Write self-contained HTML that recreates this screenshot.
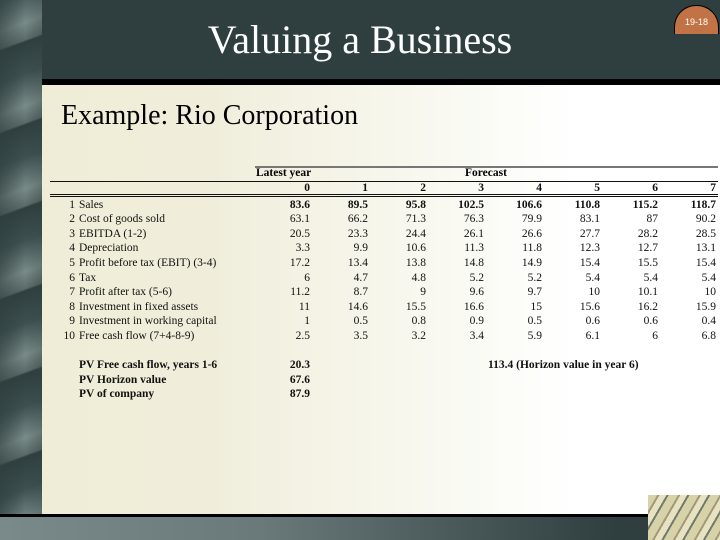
<!DOCTYPE html>
<html><head><meta charset="utf-8"><style>
body{margin:0;width:720px;height:540px;overflow:hidden;position:relative;font-family:"Liberation Serif",serif;background:linear-gradient(90deg,#efedd6 0%,#f0eedb 30%,#fafaf4 65%,#fff 80%);}
.abs{position:absolute}
#strip{left:0;top:0;width:42px;height:515px;background:repeating-linear-gradient(160deg,#3e5050 0px,#7a8c8a 30px,#5a6b6a 46px,#2f3f3f 48px,#3e5050 78px);}
#strip:after{content:"";position:absolute;inset:0;background:linear-gradient(90deg,rgba(47,63,63,.6),rgba(0,0,0,0) 60%,rgba(47,63,63,.3));}
#header{left:42px;top:0;width:678px;height:79px;background:#2f3f3f;}
#hline{left:42px;top:79px;width:678px;height:6px;background:#000;}
#title{left:0;width:720px;top:16px;text-align:center;color:#fff;font-size:40px;}
#badge{left:674px;top:5px;width:43px;height:28px;background:#c27346;border-radius:22px 22px 0 0;color:#fff;font:9px "Liberation Sans",sans-serif;text-align:center;line-height:32px;border:1px solid #000;border-bottom:none}
#sub{left:61px;top:100px;font-size:28px;color:#000}
#bline{left:0;top:514px;width:648px;height:3px;background:#000}
#bbar{left:0;top:517px;width:648px;height:23px;background:linear-gradient(90deg,#7a8a8a,#6a7a7a 40%,#2f3f3f 95%)}
#pic{left:648px;top:495px;width:72px;height:45px;background:repeating-linear-gradient(120deg,#d8d2a8 0 8px,#a09a7a 8px 10px,#e8e2c0 10px 16px,#707a70 16px 18px)}
table{position:absolute;left:50px;top:166px;border-collapse:collapse;font-size:11.5px;color:#111;table-layout:fixed;width:666px}
td{padding:0;height:14.6px;line-height:14.6px;text-align:right;width:58px;white-space:nowrap;overflow:visible}
td.n{width:25px}td.l{text-align:left;width:173px;padding-left:4px}
.b{font-weight:bold}
.hl{position:absolute;background:#111}
</style></head><body>
<div id="strip" class="abs"></div>
<div id="header" class="abs"></div>
<div id="hline" class="abs"></div>
<div id="title" class="abs">Valuing a Business</div>
<div id="badge" class="abs">19-18</div>
<div id="sub" class="abs">Example: Rio Corporation</div>
<div id="bline" class="abs"></div>
<div id="bbar" class="abs"></div>
<div id="pic" class="abs"></div>
<div class="hl" style="left:255px;top:166px;width:463px;height:2px;background:#777"></div>
<div class="hl" style="left:50px;top:181px;width:668px;height:1px"></div>
<div class="hl" style="left:50px;top:194px;width:668px;height:1px"></div>
<div class="hl" style="left:50px;top:196px;width:668px;height:1px"></div>
<div class="abs b" style="left:256px;top:167px;font-size:11.5px">Latest year</div>
<div class="abs b" style="left:465px;top:167px;font-size:11.5px">Forecast</div>
<table style="top:181px">
<colgroup><col style="width:25px"><col style="width:177px"><col style="width:58px"><col style="width:58px"><col style="width:58px"><col style="width:58px"><col style="width:58px"><col style="width:58px"><col style="width:58px"><col style="width:58px"></colgroup>
<tr class="b"><td class="n"></td><td class="l"></td><td>0</td><td>1</td><td>2</td><td>3</td><td>4</td><td>5</td><td>6</td><td>7</td></tr>
<tr style="height:2px"><td colspan="10" style="height:2px;line-height:2px"></td></tr>
<tr><td class="n">1</td><td class="l">Sales</td><td class="b">83.6</td><td class="b">89.5</td><td class="b">95.8</td><td class="b">102.5</td><td class="b">106.6</td><td class="b">110.8</td><td class="b">115.2</td><td class="b">118.7</td></tr>
<tr><td class="n">2</td><td class="l">Cost of goods sold</td><td>63.1</td><td>66.2</td><td>71.3</td><td>76.3</td><td>79.9</td><td>83.1</td><td>87</td><td>90.2</td></tr>
<tr><td class="n">3</td><td class="l">EBITDA (1-2)</td><td>20.5</td><td>23.3</td><td>24.4</td><td>26.1</td><td>26.6</td><td>27.7</td><td>28.2</td><td>28.5</td></tr>
<tr><td class="n">4</td><td class="l">Depreciation</td><td>3.3</td><td>9.9</td><td>10.6</td><td>11.3</td><td>11.8</td><td>12.3</td><td>12.7</td><td>13.1</td></tr>
<tr><td class="n">5</td><td class="l">Profit before tax (EBIT) (3-4)</td><td>17.2</td><td>13.4</td><td>13.8</td><td>14.8</td><td>14.9</td><td>15.4</td><td>15.5</td><td>15.4</td></tr>
<tr><td class="n">6</td><td class="l">Tax</td><td>6</td><td>4.7</td><td>4.8</td><td>5.2</td><td>5.2</td><td>5.4</td><td>5.4</td><td>5.4</td></tr>
<tr><td class="n">7</td><td class="l">Profit after tax (5-6)</td><td>11.2</td><td>8.7</td><td>9</td><td>9.6</td><td>9.7</td><td>10</td><td>10.1</td><td>10</td></tr>
<tr><td class="n">8</td><td class="l">Investment in fixed assets</td><td>11</td><td>14.6</td><td>15.5</td><td>16.6</td><td>15</td><td>15.6</td><td>16.2</td><td>15.9</td></tr>
<tr><td class="n">9</td><td class="l">Investment in working capital</td><td>1</td><td>0.5</td><td>0.8</td><td>0.9</td><td>0.5</td><td>0.6</td><td>0.6</td><td>0.4</td></tr>
<tr><td class="n">10</td><td class="l">Free cash flow (7+4-8-9)</td><td>2.5</td><td>3.5</td><td>3.2</td><td>3.4</td><td>5.9</td><td>6.1</td><td>6</td><td>6.8</td></tr>
<tr><td colspan="10"></td></tr>
<tr class="b"><td class="n"></td><td class="l">PV Free cash flow, years 1-6</td><td>20.3</td><td colspan="7" style="text-align:left;padding-left:178px">113.4 (Horizon value in year 6)</td></tr>
<tr class="b"><td class="n"></td><td class="l">PV Horizon value</td><td>67.6</td><td colspan="7"></td></tr>
<tr class="b"><td class="n"></td><td class="l">PV of company</td><td>87.9</td><td colspan="7"></td></tr>
</table>
</body></html>
